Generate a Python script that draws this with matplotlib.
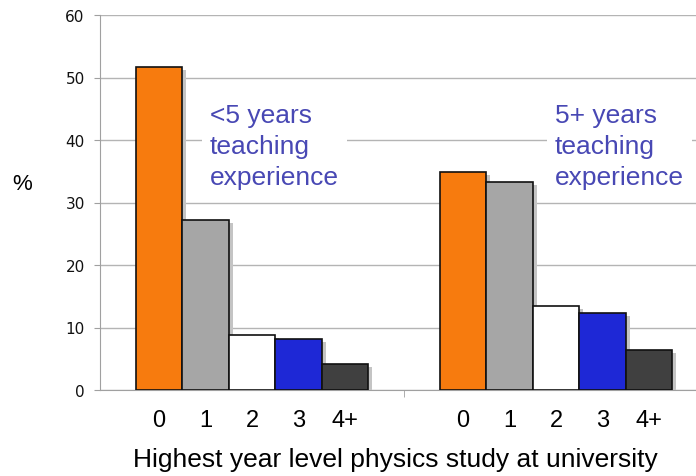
import matplotlib.pyplot as plt
import matplotlib.patheffects as pe
import numpy as np

# data
groups = ["<5 years\nteaching\nexperience", "5+ years\nteaching\nexperience"]
levels = ["0", "1", "2", "3", "4+"]
less_than_5 = [51.7, 27.2, 8.8, 8.2, 4.2]
five_plus = [34.9, 33.3, 13.4, 12.3, 6.4]
colors = ["#f77b0e", "#a6a6a6", "#ffffff", "#1e28d6", "#404040"]

fig = plt.figure(figsize=(6.96, 4.77), dpi=100)
ax = fig.add_axes((100 / 696, 86 / 477, 608 / 696, 375 / 477))

width = 0.153
shadow = [pe.SimplePatchShadow(offset=(3, -2), shadow_rgbFace="#c4c4c4", alpha=1.0), pe.Normal()]
tick_pos = []
tick_lab = []
for g, vals in enumerate([less_than_5, five_plus]):
    xs = g + (np.arange(len(vals)) - 2) * width
    bars = ax.bar(xs, vals, width=width, color=colors, edgecolor="#111111", linewidth=1.2, zorder=3)
    for b in bars:
        b.set_path_effects(shadow)
    tick_pos.extend(xs)
    tick_lab.extend(levels)

ax.set_xlim(-0.5, 1.5)
ax.set_ylim(0, 60)
ax.set_yticks(range(0, 61, 10))
ax.yaxis.grid(True, color="#b4b4b4", linewidth=1)
ax.set_axisbelow(True)
for s in ["top", "right"]:
    ax.spines[s].set_visible(False)
ax.spines["left"].set_color("#a0a0a0")
ax.spines["bottom"].set_color("#a0a0a0")
ax.tick_params(axis="y", colors="#a0a0a0", labelcolor="#111111", labelsize=11, length=4, pad=7)

ax.set_xticks(tick_pos)
ax.set_xticklabels(tick_lab, fontsize=17, family="Liberation Sans")
ax.set_xticks([0.5], minor=True)
ax.tick_params(axis="x", which="major", length=0, pad=14)
ax.tick_params(axis="x", which="minor", length=5, colors="#a0a0a0")

ax.set_xlabel("Highest year level physics study at university", fontsize=19,
              family="Liberation Sans", labelpad=11)
ax.xaxis.label.set_x(0.486)
fig.text(22 / 696, 1 - 185 / 477, "%", fontsize=16, family="Liberation Sans", ha="center", va="center")

for x0, label in zip([210, 555], groups):
    fig.text(x0 / 696, 1 - 147 / 477, label, fontsize=19, family="Liberation Sans",
             color="#4848b4", ha="left", va="center", linespacing=1.37,
             bbox=dict(facecolor="white", edgecolor="none", pad=6))

fig.savefig("out.png", dpi=100)
